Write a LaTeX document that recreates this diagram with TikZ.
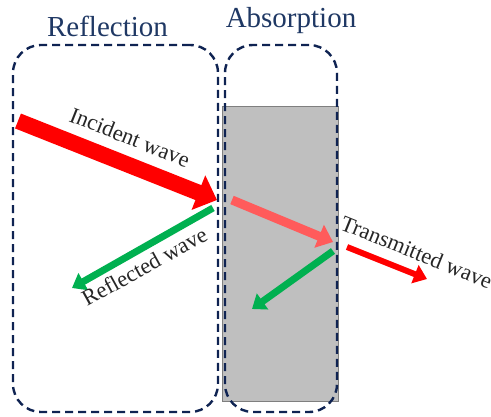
\documentclass[tikz,border=0pt]{standalone}
\usepackage{fontspec}
\setmainfont{Liberation Serif}
\usetikzlibrary{arrows.meta,positioning}
\definecolor{zonenavy}{HTML}{0F2352}
\definecolor{titlenavy}{HTML}{1F3864}
\definecolor{slabgray}{HTML}{BFBFBF}
\definecolor{slabedge}{HTML}{7F7F7F}
\definecolor{wavered}{HTML}{FF0000}
\definecolor{wavepink}{HTML}{FF5B5B}
\definecolor{wavegreen}{HTML}{00B050}

\begin{document}
\begin{tikzpicture}[
    x=1pt, y=-1pt,
    zone/.style={rectangle, draw=zonenavy, line width=2.4pt, dash pattern=on 8pt off 5pt,
                 rounded corners=28pt, minimum height=367pt, inner sep=0pt},
    zonelbl/.style={text=titlenavy, font=\fontsize{29}{34}\selectfont, anchor=base, inner sep=0pt},
    slab/.style={rectangle, draw=slabedge, fill=slabgray, line width=1pt,
                 minimum width=116pt, minimum height=295pt, inner sep=0pt},
    bigwave/.style={line width=16pt, -{Triangle[length=20pt,width=36pt]}},
    midwave/.style={line width=9pt, -{Triangle[length=15pt,width=24pt]}},
    thinwave/.style={line width=7pt, -{Triangle[length=13pt,width=19pt]}},
    lbl/.style={font=\fontsize{22.5}{27}\selectfont, text=black!85, anchor=base west, inner sep=0pt}
]
\useasboundingbox (0,0) rectangle (491,417);

%% -- Absorbing slab ----------------------------------------------
\node[slab] (slab) at (280,254.5) {};

%% -- Wave end points ---------------------------------------------
\coordinate (incsrc)  at (18,121);
\coordinate (inchit)  at (217,200);
\coordinate (refsrc)  at (213,208);
\coordinate (refend)  at (72,288);
\coordinate (insrc)   at (232,200);
\coordinate (inhit)   at (333,242);
\coordinate (backsrc) at (333,251);
\coordinate (backend) at (252,309);
\coordinate (trsrc)   at (347,247);
\coordinate (trend)   at (427,279);

%% -- Waves -------------------------------------------------------
\draw[bigwave, wavered]    (incsrc)  -- (inchit);
\draw[thinwave, wavegreen] (refsrc)  -- (refend);
\draw[midwave, wavepink]   (insrc)   -- (inhit);
\draw[thinwave, wavegreen] (backsrc) -- (backend);
\draw[thinwave, wavered, line width=6pt] (trsrc) -- (trend);

%% -- Wave labels -------------------------------------------------
\node[lbl, rotate=-21.6] (inclbl) at (68,121)  {Incident wave};
\node[lbl, rotate=29]    (reflbl) at (87,307)  {Reflected wave};
\node[lbl, rotate=-22]   (trlbl)  at (339,229) {Transmitted wave};

%% -- Zones -------------------------------------------------------
\node[zone, minimum width=205pt] (reflzone) at (115.5,228.5) {};
\node[zone, minimum width=112pt] (abszone)  at (281,228.5) {};
\node[zonelbl] (refltitle) at (107.5,37) {Reflection};
\node[zonelbl] (abstitle)  at (291,28)   {Absorption};

\end{tikzpicture}
\end{document}
